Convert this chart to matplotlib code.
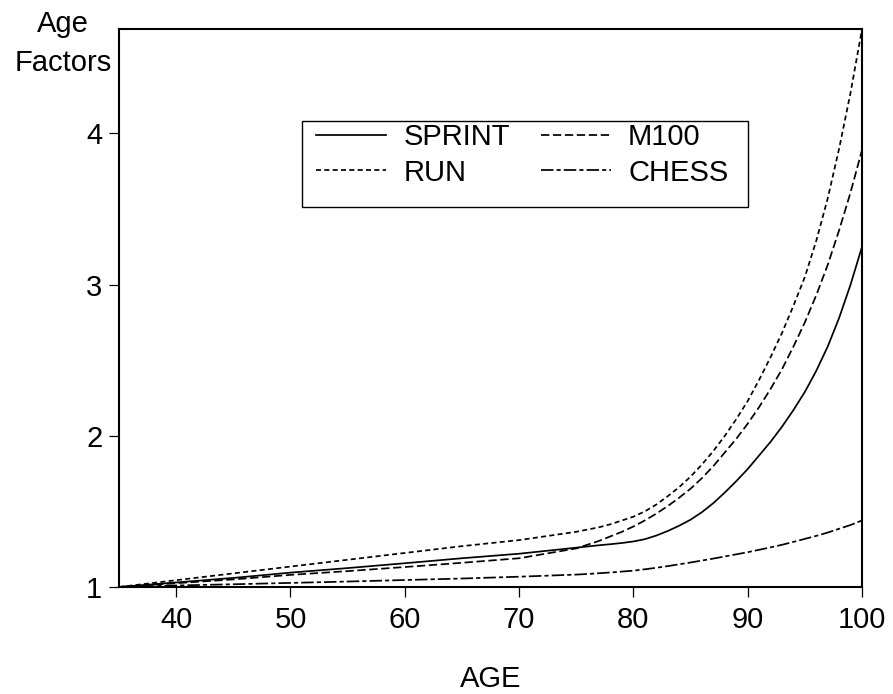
import numpy as np
import matplotlib
matplotlib.use("Agg")
import matplotlib.pyplot as plt
from matplotlib.patches import Rectangle

plt.rcParams["font.family"] = ["Liberation Sans", "DejaVu Sans"]
plt.rcParams["lines.scale_dashes"] = False

# Values
ages = [35, 40, 45, 50, 55, 60, 65, 70,
        75, 76, 77, 78, 79, 80, 81, 82, 83, 84, 85, 86, 87,
        88, 89, 90, 91, 92, 93, 94, 95, 96, 97, 98, 99, 100]
sprint = [1.0, 1.03, 1.06, 1.095, 1.125, 1.157, 1.19, 1.22,
          1.26, 1.268, 1.276, 1.283, 1.291, 1.301, 1.316, 1.34, 1.37,
          1.405, 1.445, 1.495, 1.555, 1.625, 1.70, 1.78, 1.87, 1.96, 2.06,
          2.17, 2.29, 2.43, 2.59, 2.78, 3.00, 3.25]
m100 = [1.0, 1.025, 1.05, 1.08, 1.105, 1.132, 1.16, 1.19,
        1.255, 1.28, 1.305, 1.335, 1.365, 1.40, 1.44, 1.485, 1.535,
        1.59, 1.65, 1.72, 1.80, 1.89, 1.98, 2.08, 2.19, 2.31, 2.44,
        2.59, 2.75, 2.93, 3.13, 3.36, 3.61, 3.89]
run = [1.0, 1.045, 1.09, 1.135, 1.18, 1.225, 1.27, 1.31,
       1.365, 1.38, 1.395, 1.415, 1.44, 1.465, 1.50, 1.545, 1.60,
       1.66, 1.73, 1.81, 1.90, 2.00, 2.11, 2.23, 2.37, 2.52, 2.68,
       2.86, 3.05, 3.29, 3.57, 3.90, 4.27, 4.69]
chess = [1.0, 1.01, 1.018, 1.027, 1.036, 1.046, 1.056, 1.068,
         1.082, 1.086, 1.091, 1.096, 1.102, 1.108, 1.117, 1.127, 1.138,
         1.15, 1.162, 1.175, 1.188, 1.202, 1.216, 1.23, 1.246, 1.262,
         1.279, 1.298, 1.318, 1.338, 1.36, 1.385, 1.41, 1.44]

xticks = [40, 50, 60, 70, 80, 90, 100]
yticks = [1, 2, 3, 4]

fig = plt.figure(figsize=(8.93, 6.94), dpi=100)
ax = fig.add_axes([0.1333, 0.1542, 0.832, 0.804])

lw = 1.25
ax.plot(ages, sprint, color="k", lw=lw, label="SPRINT")
ax.plot(ages, run, color="k", lw=lw, dashes=(3.6, 2.4), label="RUN")
ax.plot(ages, m100, color="k", lw=lw, dashes=(6.0, 2.6), label="M100")
ax.plot(ages, chess, color="k", lw=lw, dashes=(9.0, 2.2, 3.0, 2.2),
        label="CHESS")

ax.set_xlim(35, 100)
ax.set_ylim(1.0, 4.69)
ax.set_xticks(xticks)
ax.set_yticks(yticks)
ax.tick_params(axis="both", direction="out", length=7, width=0.9,
               labelsize=21, pad=5)
ax.tick_params(axis="x", pad=7)
for s in ax.spines.values():
    s.set_linewidth(1.5)

ax.set_xlabel("AGE", fontsize=21, labelpad=22)
fig.text(63 / 893, 1 - 32 / 694, "Age", fontsize=21, ha="center",
         va="baseline")
fig.text(63 / 893, 1 - 71 / 694, "Factors", fontsize=21, ha="center",
         va="baseline")

# legend box (extra room below the entries, as in the original)
ax.add_patch(Rectangle((0.246, 0.681), 0.6006, 0.154, transform=ax.transAxes,
                       facecolor="white", edgecolor="k", lw=1.0, zorder=4))
leg = ax.legend(ncol=2, loc="upper left", bbox_to_anchor=(0.265, 0.831),
                borderaxespad=0, fontsize=21, frameon=False,
                handlelength=2.4, handletextpad=0.6, columnspacing=1.05,
                labelspacing=0.25, borderpad=0)
leg.set_zorder(5)

fig.savefig("out.png", dpi=100)
